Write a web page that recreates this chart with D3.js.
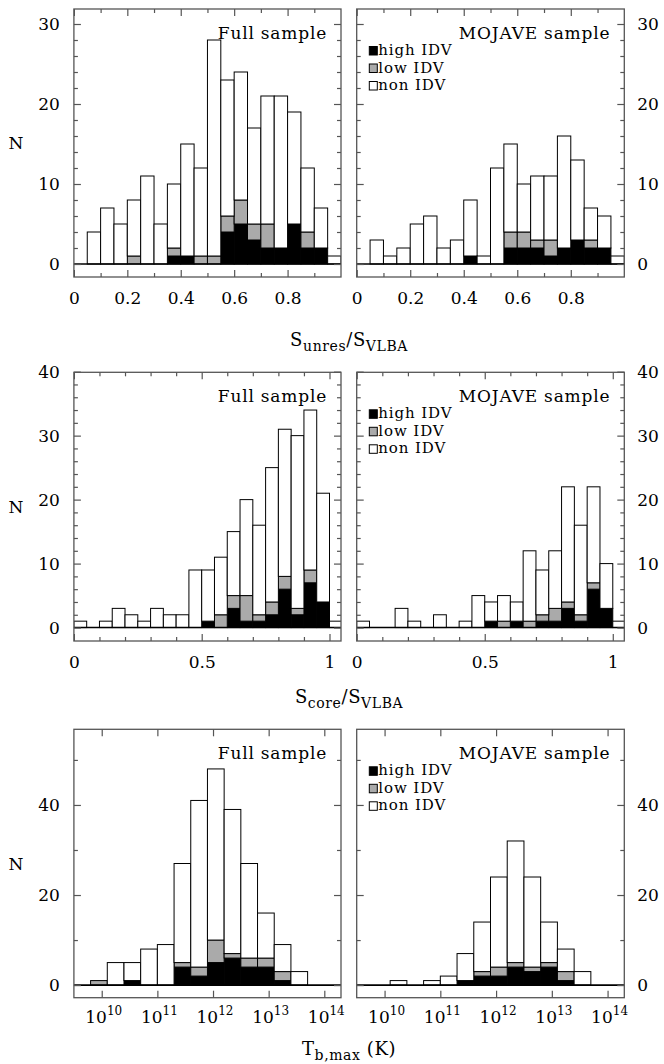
<!DOCTYPE html>
<html lang="en">
<head>
<meta charset="UTF-8">
<title>IDV histograms</title>
<script src="https://d3js.org/d3.v7.min.js"></script>
<style>
  body { margin: 0; background: #fff; }
  svg text { font-family: "DejaVu Serif", serif; fill: #000; }
</style>
</head>
<body>
<svg width="664" height="1064"></svg>
<script>
// bin lower edges
const unresEdges = [0.00, 0.05, 0.10, 0.15, 0.20, 0.25, 0.30, 0.35, 0.40, 0.45,
                    0.50, 0.55, 0.60, 0.65, 0.70, 0.75, 0.80, 0.85, 0.90, 0.95];
const coreEdges = [0.00, 0.05, 0.10, 0.15, 0.20, 0.25, 0.30, 0.35, 0.40, 0.45, 0.50,
                   0.55, 0.60, 0.65, 0.70, 0.75, 0.80, 0.85, 0.90, 0.95, 1.00];
// log10(T_b / K)
const tbEdges = [9.5, 9.8, 10.1, 10.4, 10.7, 11.0, 11.3, 11.6, 11.9, 12.2, 12.5, 12.8, 13.1, 13.4, 13.7, 14.0];

// S_unres / S_VLBA
const unresFullHigh = [0, 0, 0, 0, 0, 0, 0, 1, 1, 0, 0, 4, 5, 3, 2, 2, 5, 2, 2, 0];
const unresFullLow  = [0, 0, 0, 0, 1, 0, 0, 1, 0, 1, 1, 2, 3, 2, 3, 0, 0, 2, 0, 0];
const unresFullNon  = [0, 4, 7, 5, 7, 11, 5, 8, 14, 11, 27, 17, 16, 12, 16, 19, 14, 8, 5, 1];
const unresMojHigh  = [0, 0, 0, 0, 0, 0, 0, 0, 1, 0, 0, 2, 2, 2, 1, 2, 3, 2, 2, 0];
const unresMojLow   = [0, 0, 0, 0, 0, 0, 0, 0, 0, 0, 0, 2, 2, 1, 2, 0, 0, 1, 0, 0];
const unresMojNon   = [0, 3, 1, 2, 5, 6, 2, 3, 7, 1, 12, 11, 6, 8, 8, 14, 10, 4, 4, 1];

// S_core / S_VLBA
const coreFullHigh = [0, 0, 0, 0, 0, 0, 0, 0, 0, 0, 1, 0, 3, 1, 1, 2, 6, 2, 7, 4, 0];
const coreFullLow  = [0, 0, 0, 0, 0, 0, 0, 0, 0, 0, 0, 2, 2, 4, 1, 2, 2, 1, 2, 0, 0];
const coreFullNon  = [1, 0, 1, 3, 2, 1, 3, 2, 2, 9, 8, 9, 10, 15, 14, 21, 23, 27, 25, 17, 1];
const coreMojHigh  = [0, 0, 0, 0, 0, 0, 0, 0, 0, 0, 1, 0, 1, 0, 1, 1, 3, 1, 6, 3, 0];
const coreMojLow   = [0, 0, 0, 0, 0, 0, 0, 0, 0, 0, 0, 1, 0, 1, 1, 2, 1, 1, 1, 0, 0];
const coreMojNon   = [1, 0, 0, 3, 1, 0, 2, 0, 1, 5, 3, 4, 3, 11, 7, 9, 18, 14, 15, 7, 1];

// T_b,max
const tbFullHigh = [0, 0, 0, 1, 0, 0, 4, 2, 5, 6, 4, 4, 1, 0, 0, 0];
const tbFullLow  = [0, 1, 0, 0, 0, 0, 1, 2, 5, 1, 2, 2, 2, 0, 0, 0];
const tbFullNon  = [0, 0, 5, 4, 8, 9, 22, 37, 38, 32, 21, 10, 6, 3, 0, 0];
const tbMojHigh  = [0, 0, 0, 0, 0, 0, 1, 2, 2, 4, 3, 4, 1, 0, 0, 0];
const tbMojLow   = [0, 0, 0, 0, 0, 0, 0, 1, 2, 1, 1, 1, 2, 0, 0, 0];
const tbMojNon   = [0, 0, 1, 0, 1, 2, 6, 11, 20, 27, 20, 9, 5, 3, 0, 0];

const legendLabels = ["high IDV", "low IDV", "non IDV"];
const sampleTitles = ["Full sample", "MOJAVE sample"];

// tick values
const unresTicks = [0, 0.2, 0.4, 0.6, 0.8];
const coreTicks = [0, 0.5, 1];
const tbTicks = [10, 11, 12, 13, 14];
const yTicksUnres = [0, 10, 20, 30];
const yTicksCore = [0, 10, 20, 30, 40];
const yTicksTb = [0, 20, 40];

const keys = ["high", "low", "non"];
const fills = {high: "#000", low: "#aaaaaa", non: "#fff"};
const frameColor = "#555";

const svg = d3.select("svg");
const cols = [[73.9, 341], [356.7, 624.3]];

const rows = [
  {top: 9, bottom: 277, xDom: [0, 1], log: false, edges: unresEdges, bw: 0.05,
   yDom: [-1.625, 31.875], yTicks: yTicksUnres, yMinor: d3.range(2, 31, 2).filter(v => v % 10),
   xTicks: unresTicks, xMinor: [0.1, 0.3, 0.5, 0.7, 0.9], fmt: d3.format("~g"),
   data: [[unresFullHigh, unresFullLow, unresFullNon], [unresMojHigh, unresMojLow, unresMojNon]],
   titleY: 346,
   title: [["S", ""], ["unres", "sub"], ["/", ""], ["S", ""], ["VLBA", "sub"]]},
  {top: 372.3, bottom: 641, xDom: [0, 1.045], log: false, edges: coreEdges, bw: 0.05,
   yDom: [-2.1, 39.9], yTicks: yTicksCore, yMinor: d3.range(2, 40, 2).filter(v => v % 10),
   xTicks: coreTicks, xMinor: [0.1, 0.2, 0.3, 0.4, 0.6, 0.7, 0.8, 0.9], fmt: d3.format("~g"),
   data: [[coreFullHigh, coreFullLow, coreFullNon], [coreMojHigh, coreMojLow, coreMojNon]],
   titleY: 703,
   title: [["S", ""], ["core", "sub"], ["/", ""], ["S", ""], ["VLBA", "sub"]]},
  {top: 729.3, bottom: 997.7, xDom: [9.5, 14.3], log: true, edges: tbEdges, bw: 0.3,
   yDom: [-2.8, 56.8], yTicks: yTicksTb, yMinor: [10, 30, 50],
   xTicks: tbTicks, xMinor: [], fmt: null,
   data: [[tbFullHigh, tbFullLow, tbFullNon], [tbMojHigh, tbMojLow, tbMojNon]],
   titleY: 1055,
   title: [["T", ""], ["b,max", "sub"], [" (K)", ""]]}
];

rows.forEach((row, ri) => {
  const y = d3.scaleLinear().domain(row.yDom).range([row.bottom, row.top]);

  cols.forEach(([x0, x1], ci) => {
    const g = svg.append("g");
    const toVal = row.log ? v => Math.pow(10, v) : v => v;
    const x = (row.log ? d3.scaleLog() : d3.scaleLinear())
      .domain(row.xDom.map(toVal))
      .range([x0, x1]);
    const pos = v => x(toVal(v));

    const clipId = `clip-${ri}-${ci}`;
    g.append("clipPath").attr("id", clipId)
      .append("rect")
      .attr("x", x0).attr("y", row.top)
      .attr("width", x1 - x0).attr("height", row.bottom - row.top);

    // stacked histogram
    const [high, low, non] = row.data[ci];
    const table = row.edges.map((e, i) => ({e: e, high: high[i], low: low[i], non: non[i]}));
    const series = d3.stack().keys(keys)(table);

    const bars = g.append("g").attr("clip-path", `url(#${clipId})`);
    series.forEach(s => {
      bars.selectAll(null)
        .data(s.filter(d => d[1] > d[0]))
        .enter().append("rect")
        .attr("x", d => pos(d.data.e))
        .attr("width", d => pos(d.data.e + row.bw) - pos(d.data.e))
        .attr("y", d => y(d[1]))
        .attr("height", d => y(d[0]) - y(d[1]))
        .attr("fill", fills[s.key])
        .attr("stroke", "#000")
        .attr("stroke-width", 1);
    });

    // zero line
    g.append("line")
      .attr("x1", x0).attr("x2", x1)
      .attr("y1", y(0)).attr("y2", y(0))
      .attr("stroke", "#000")
      .attr("stroke-width", 1.6);

    // ticks on all four sides, pointing inwards
    const styleAxis = sel => {
      sel.select(".domain").remove();
      sel.attr("color", frameColor)
        .attr("font-family", "DejaVu Serif")
        .attr("font-size", 17);
      sel.selectAll("line").attr("stroke-width", 1.2);
      sel.selectAll("text").attr("fill", "#000");
    };
    const xMajor = row.xTicks.map(toVal);
    const xMinor = row.xMinor.map(toVal);

    g.append("g").attr("transform", `translate(0,${row.bottom})`)
      .call(d3.axisBottom(x).tickValues(xMajor).tickSizeInner(-7).tickSizeOuter(0)
        .tickPadding(15).tickFormat(row.fmt ? row.fmt : ""))
      .call(styleAxis);
    g.append("g").attr("transform", `translate(0,${row.top})`)
      .call(d3.axisTop(x).tickValues(xMajor).tickSizeInner(-7).tickSizeOuter(0).tickFormat(""))
      .call(styleAxis);
    if (xMinor.length) {
      g.append("g").attr("transform", `translate(0,${row.bottom})`)
        .call(d3.axisBottom(x).tickValues(xMinor).tickSizeInner(-4).tickSizeOuter(0).tickFormat(""))
        .call(styleAxis);
      g.append("g").attr("transform", `translate(0,${row.top})`)
        .call(d3.axisTop(x).tickValues(xMinor).tickSizeInner(-4).tickSizeOuter(0).tickFormat(""))
        .call(styleAxis);
    }

    const yLeft = d3.axisLeft(y).tickValues(row.yTicks).tickSizeInner(-7).tickSizeOuter(0).tickPadding(14);
    const yRight = d3.axisRight(y).tickValues(row.yTicks).tickSizeInner(-7).tickSizeOuter(0).tickPadding(13);
    g.append("g").attr("transform", `translate(${x0},0)`)
      .call(ci === 0 ? yLeft : yLeft.tickFormat(""))
      .call(styleAxis);
    g.append("g").attr("transform", `translate(${x1},0)`)
      .call(ci === 1 ? yRight : yRight.tickFormat(""))
      .call(styleAxis);
    g.append("g").attr("transform", `translate(${x0},0)`)
      .call(d3.axisLeft(y).tickValues(row.yMinor).tickSizeInner(-4).tickSizeOuter(0).tickFormat(""))
      .call(styleAxis);
    g.append("g").attr("transform", `translate(${x1},0)`)
      .call(d3.axisRight(y).tickValues(row.yMinor).tickSizeInner(-4).tickSizeOuter(0).tickFormat(""))
      .call(styleAxis);

    // power-of-ten labels for the log axis
    if (row.log) {
      const lab = g.selectAll(".pow")
        .data(row.xTicks)
        .enter().append("text")
        .attr("class", "pow")
        .attr("x", d => x(toVal(d)) + 2)
        .attr("y", row.bottom + 25)
        .attr("text-anchor", "middle")
        .style("font-size", "17px");
      lab.append("tspan").text("10");
      lab.append("tspan").attr("dy", -8).style("font-size", "12px").text(d => d);
    }

    // frame
    g.append("rect")
      .attr("x", x0).attr("y", row.top)
      .attr("width", x1 - x0).attr("height", row.bottom - row.top)
      .attr("fill", "none")
      .attr("stroke", frameColor)
      .attr("stroke-width", 1.3);

    // sample label
    g.append("text")
      .attr("x", x1 - 14)
      .attr("y", row.top + 29.5)
      .attr("text-anchor", "end")
      .style("font-size", "17px")
      .style("letter-spacing", "0.8px")
      .text(sampleTitles[ci]);

    // legend in the MOJAVE panels
    if (ci === 1) {
      const leg = g.selectAll(".leg")
        .data(keys)
        .enter().append("g")
        .attr("class", "leg")
        .attr("transform", (d, i) => `translate(${x0 + 12.6},${row.top + 46 + i * 17.5})`);
      leg.append("rect")
        .attr("x", 0).attr("y", -8.5)
        .attr("width", 8).attr("height", 8.5)
        .attr("fill", d => fills[d])
        .attr("stroke", "#000")
        .attr("stroke-width", 1);
      leg.append("text")
        .attr("x", 9)
        .style("font-size", "15px")
        .style("letter-spacing", "0.9px")
        .text((d, i) => legendLabels[i]);
    }
  });

  // y label
  svg.append("text")
    .attr("x", 16)
    .attr("y", (row.top + row.bottom) / 2 + 6)
    .attr("text-anchor", "middle")
    .style("font-size", "17px")
    .text("N");

  // x-axis title
  const t = svg.append("text")
    .attr("x", (cols[0][0] + cols[1][1]) / 2)
    .attr("y", row.titleY)
    .attr("text-anchor", "middle")
    .style("font-size", "18px")
    .style("letter-spacing", "0.6px");
  let shift = 0;
  row.title.forEach(([s, kind]) => {
    const dy = kind === "sub" ? 5 : 0;
    t.append("tspan")
      .attr("dy", dy - shift)
      .style("font-size", kind === "sub" ? "14px" : "18px")
      .text(s);
    shift = dy;
  });
});
</script>
</body>
</html>
